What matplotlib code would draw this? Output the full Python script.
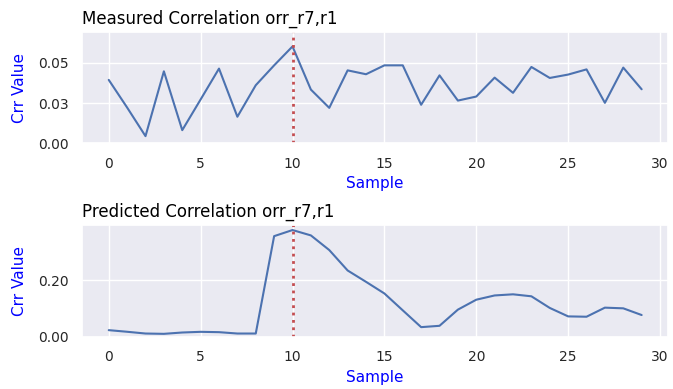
import matplotlib
matplotlib.use('Agg')
import matplotlib.pyplot as plt
from matplotlib.ticker import MultipleLocator, FormatStrFormatter
import seaborn as sns
import numpy as np

samples = np.arange(30)
measured = [0.0393, 0.0222, 0.0045, 0.0446, 0.0082, 0.0272, 0.0463, 0.0165, 0.0360, 0.0483,
            0.0600, 0.0333, 0.0220, 0.0452, 0.0428, 0.0483, 0.0483, 0.0239, 0.0421, 0.0265,
            0.0290, 0.0407, 0.0313, 0.0473, 0.0405, 0.0426, 0.0458, 0.0251, 0.0469, 0.0335]
predicted = [0.0237, 0.0180, 0.0118, 0.0107, 0.0154, 0.0178, 0.0166, 0.0118, 0.0118, 0.3550,
             0.3765, 0.3576, 0.3060, 0.2340, 0.1940, 0.1530, 0.0935, 0.0343, 0.0390, 0.0960,
             0.1310, 0.1460, 0.1500, 0.1430, 0.1020, 0.0722, 0.0710, 0.1030, 0.1006, 0.0770]
marker_sample = 10

sns.set_theme(style='darkgrid')

fig, (ax1, ax2) = plt.subplots(2, 1, figsize=(6.73, 3.89), dpi=100)

ax1.plot(samples, measured, color='#4C72B0', linewidth=1.5)
ax1.axvline(marker_sample, color='#C44E52', linestyle=':', linewidth=2)
ax1.set_ylim(0, 0.069)
ax1.yaxis.set_major_locator(MultipleLocator(0.025))
ax1.yaxis.set_major_formatter(FormatStrFormatter('%.2f'))
ax1.set_title('Measured Correlation orr_r7,r1', loc='left', fontsize=12, color='black')
ax1.set_xlabel('Sample', color='blue', fontsize=11)
ax1.set_ylabel('Crr Value', color='blue', fontsize=11, labelpad=8)

ax2.plot(samples, predicted, color='#4C72B0', linewidth=1.5)
ax2.axvline(marker_sample, color='#C44E52', linestyle=':', linewidth=2)
ax2.set_ylim(0, 0.393)
ax2.yaxis.set_major_locator(MultipleLocator(0.2))
ax2.yaxis.set_major_formatter(FormatStrFormatter('%.2f'))
ax2.set_title('Predicted Correlation orr_r7,r1', loc='left', fontsize=12, color='black')
ax2.set_xlabel('Sample', color='blue', fontsize=11)
ax2.set_ylabel('Crr Value', color='blue', fontsize=11, labelpad=8)

for ax in (ax1, ax2):
    ax.tick_params(labelsize=10)

fig.subplots_adjust(left=0.122, right=0.993, top=0.918, bottom=0.134, hspace=0.735)
plt.savefig('out.png')
